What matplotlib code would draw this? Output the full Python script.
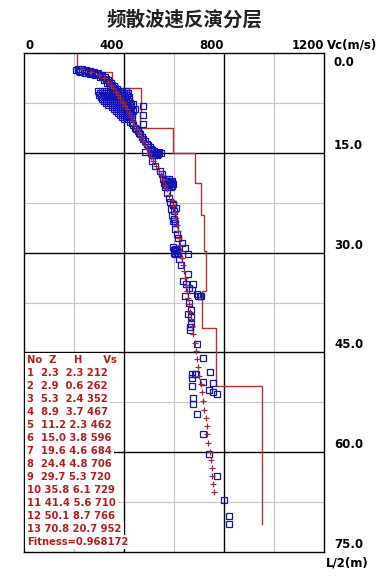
import matplotlib
matplotlib.use("Agg")
import matplotlib.pyplot as plt

# ---------------- data ----------------
title = "频散波速反演分层"
x_tick_values = [0, 400, 800, 1200]
x_tick_labels = ["0", "400", "800", "1200"]
x_unit = "Vc(m/s)"
y_tick_values = [0, 15, 30, 45, 60, 75]
y_tick_labels = ["0.0", "15.0", "30.0", "45.0", "60.0", "75.0"]
y_unit = "L/2(m)"
x_major_grid = [400, 800]
x_minor_grid = [200, 600, 1000]
y_major_grid = [15, 30, 45, 60]
y_minor_grid = [7.5, 22.5, 37.5, 52.5, 67.5]

# layered model (table)
layer_no = list(range(1, 14))
layer_z = [2.3, 2.9, 5.3, 8.9, 11.2, 15.0, 19.6, 24.4, 29.7, 35.8, 41.4, 50.1, 70.8]
layer_h = [2.3, 0.6, 2.4, 3.7, 2.3, 3.8, 4.6, 4.8, 5.3, 6.1, 5.6, 8.7, 20.7]
layer_vs = [212, 262, 352, 467, 462, 596, 684, 706, 720, 729, 710, 766, 952]
fitness = "0.968172"

# observed dispersion points (blue squares): velocity, depth
obs_vc = [
    216, 232, 248, 264, 280, 296, 312, 324, 336, 348, 360, 372,
    208, 224, 244, 264, 284, 304, 320, 332, 344, 356,
    220, 240, 256, 272, 292, 312, 328, 340, 352, 364,
    296, 312, 328, 344, 360, 376, 392, 408,
    304, 320, 336, 352, 368, 384, 400, 416,
    300, 316, 332, 348, 364, 380, 396, 412,
    308, 324, 340, 356, 372, 388, 404, 420,
    312, 328, 344, 360, 376, 392, 408, 420,
    320, 336, 352, 368, 384, 400, 416,
    328, 344, 360, 376, 392, 408, 424,
    336, 352, 368, 384, 400, 416, 428,
    352, 368, 384, 400, 416, 424,
    360, 376, 392, 408, 420,
    368, 384, 400, 416, 428,
    376, 392, 408, 424,
    384, 400, 416, 432,
    392, 408, 424,
    400, 416, 432,
    424, 436, 444, 456, 464, 472, 484, 492, 504, 512, 524, 536, 516,
    432, 448, 460, 476, 496, 508, 520, 540, 548,
    520, 528, 532, 508,
    436, 444, 476, 476, 476, 424, 412, 484, 436,
    512, 524, 544, 552, 556, 568, 580, 592, 560, 572, 584, 596, 564, 576, 588,
    562, 574, 586, 568, 580, 592,
    572, 580, 596, 608,
    584, 596, 588, 600, 592, 600, 604,
    596, 604, 612, 616, 632, 596, 604, 612, 600, 616, 644, 656, 612,
    600, 608, 604,
    620, 628, 656, 636, 648, 676, 660, 672, 692, 704,
    644, 696, 708, 660, 656, 668, 668, 668, 664, 664, 692, 716,
    672, 684, 744, 688, 672, 672, 716, 756, 740, 756, 772, 676, 676,
    692, 716, 740, 772, 800, 820, 820,
]
obs_z = [
    2.4, 2.4, 2.55, 2.7, 2.85, 3.0, 3.3, 3.6, 4.05, 4.5, 4.95, 5.4,
    2.55, 2.85, 3.0, 3.15, 3.3, 3.6, 4.05, 4.5, 4.95, 5.4,
    2.7, 2.7, 2.85, 2.95, 3.15, 3.45, 3.85, 4.3, 4.75, 5.2,
    5.7, 5.7, 5.7, 5.7, 5.7, 5.7, 5.7, 5.7,
    6.0, 6.0, 6.0, 6.0, 6.0, 6.0, 6.0, 6.0,
    6.3, 6.3, 6.3, 6.3, 6.3, 6.3, 6.3, 6.3,
    6.6, 6.6, 6.6, 6.6, 6.6, 6.6, 6.6, 6.6,
    6.9, 6.9, 6.9, 6.9, 6.9, 6.9, 6.9, 6.9,
    7.2, 7.2, 7.2, 7.2, 7.2, 7.2, 7.2,
    7.5, 7.5, 7.5, 7.5, 7.5, 7.5, 7.5,
    7.8, 7.8, 7.8, 7.8, 7.8, 7.8, 7.8,
    8.1, 8.1, 8.1, 8.1, 8.1, 8.1,
    8.4, 8.4, 8.4, 8.4, 8.4,
    8.7, 8.7, 8.7, 8.7, 8.7,
    9.0, 9.0, 9.0, 9.0,
    9.3, 9.3, 9.3, 9.3,
    9.6, 9.6, 9.6,
    9.9, 9.9, 9.9,
    10.35, 10.8, 11.25, 11.7, 12.15, 12.6, 13.2, 13.65, 14.1, 14.55, 15.0, 15.15, 15.15,
    10.5, 11.4, 12.0, 12.9, 13.9, 14.4, 14.8, 14.9, 15.1,
    15.3, 15.0, 15.3, 15.0,
    7.65, 8.4, 7.95, 9.3, 10.65, 9.15, 9.45, 14.85, 8.7,
    16.2, 17.0, 17.7, 18.15, 18.9, 18.9, 19.0, 19.2, 19.5, 19.5, 19.6, 19.7, 20.1, 20.1, 20.2,
    19.2, 19.3, 19.4, 19.8, 19.9, 20.0,
    21.0, 21.75, 22.65, 23.25,
    22.4, 22.8, 23.4, 23.8, 24.4, 25.0, 25.6,
    25.2, 26.4, 27.15, 27.75, 28.5, 29.2, 29.4, 29.6, 30.0, 30.0, 29.25, 30.15, 30.15,
    29.6, 29.8, 30.2,
    31.0, 31.8, 33.2, 34.2, 34.7, 34.7, 35.3, 35.6, 36.2, 36.5,
    36.5, 36.5, 36.5, 37.5, 39.2, 38.7, 39.7, 40.7, 41.2, 41.7, 43.7, 45.8,
    48.2, 48.2, 48.0, 48.2, 48.9, 50.0, 49.5, 49.6, 50.7, 51.0, 51.2, 51.8, 52.7,
    54.3, 57.2, 60.2, 63.6, 67.2, 69.6, 70.8,
]

# computed dispersion points (red plus): velocity, depth
calc_vc = [232, 268, 300, 320, 334, 346, 356, 366, 374, 384, 394, 402, 410, 420,
           428, 434, 440, 452, 460, 468, 476, 484, 492, 500, 508, 516, 528, 540,
           548, 556, 564, 572, 580, 590, 596, 602, 606, 610, 614, 618, 622, 626,
           630, 634, 638, 642, 646, 650, 654, 658, 662, 668, 672, 676, 682, 686,
           690, 696, 700, 706, 712, 716, 720, 726, 730, 732, 736, 742, 746, 750,
           752, 756, 760]
calc_z = [2.4, 2.9, 3.3, 3.8, 4.3, 4.8, 5.3, 5.8, 6.3, 6.8, 7.4, 7.9, 8.4, 9.0,
          9.6, 10.2, 10.8, 11.4, 12.0, 12.6, 13.2, 13.8, 14.4, 15.0, 15.6, 16.3, 17.0, 17.7,
          18.4, 19.1, 19.8, 20.5, 21.3, 22.1, 23.0, 23.9, 24.8, 25.8, 26.8, 27.8, 28.8, 29.8,
          30.8, 31.8, 32.8, 33.8, 34.8, 35.8, 36.8, 37.8, 38.9, 40.0, 41.1, 42.3, 43.6, 44.8,
          46.0, 47.2, 48.5, 49.7, 51.0, 52.3, 53.6, 54.9, 56.1, 57.3, 58.6, 59.9, 61.1, 62.3,
          63.6, 64.8, 66.0]

# ---------------- figure ----------------
W, H = 388, 581
fig = plt.figure(figsize=(W / 100, H / 100), dpi=100)
ax_l, ax_r, ax_t, ax_b = 24, 324, 53, 552
ax = fig.add_axes([ax_l / W, 1 - ax_b / H, (ax_r - ax_l) / W, (ax_b - ax_t) / H])
ax.set_xlim(x_tick_values[0], x_tick_values[-1])
ax.set_ylim(y_tick_values[-1], y_tick_values[0])
ax.set_xticks([])
ax.set_yticks([])
for sp in ax.spines.values():
    sp.set_color("black")
    sp.set_linewidth(1.0)

for v in x_minor_grid:
    ax.axvline(v, color="#c8c8c8", lw=0.9, zorder=1)
for v in y_minor_grid:
    ax.axhline(v, color="#c8c8c8", lw=0.9, zorder=1)
for v in x_major_grid:
    ax.axvline(v, color="black", lw=1.0, zorder=1)
for v in y_major_grid:
    ax.axhline(v, color="black", lw=1.0, zorder=1)

# step model line
step_x, step_y = [], []
prev = 0.0
for z, vs in zip(layer_z, layer_vs):
    step_x += [vs, vs]
    step_y += [prev, z]
    prev = z
ax.plot(step_x, step_y, color="#b43232", lw=1.0, zorder=2)

ax.plot(obs_vc, obs_z, linestyle="none", marker="s", ms=4.0, mfc="none",
        mec="#1414b4", mew=0.9, zorder=3)
ax.plot(calc_vc, calc_z, linestyle="none", marker="+", ms=4.5, mew=0.9,
        color="#a0283c", zorder=4)

# axis labels
lab_font = dict(family="DejaVu Sans", weight="bold", fontsize=8.5, color="black")
for v, lab in zip(x_tick_values, x_tick_labels):
    ha = "left" if v == x_tick_values[0] else "right"
    dx = 2 if v == x_tick_values[0] else 0
    ax.annotate(lab, xy=(v, 1.0), xycoords=("data", "axes fraction"),
                xytext=(dx, 4), textcoords="offset pixels", ha=ha, va="baseline",
                annotation_clip=False, **lab_font)
ax.annotate(x_unit, xy=(1.0, 1.0), xycoords="axes fraction", xytext=(3, 4),
            textcoords="offset pixels", ha="left", va="baseline",
            annotation_clip=False, **lab_font)
for v, lab in zip(y_tick_values, y_tick_labels):
    if v == y_tick_values[0]:
        off, va = -3, "top"
    else:
        off, va = 4, "baseline"
    ax.annotate(lab, xy=(1.0, v), xycoords=("axes fraction", "data"),
                xytext=(10, off), textcoords="offset pixels", ha="left", va=va,
                annotation_clip=False, **lab_font)
ax.annotate(y_unit, xy=(1.0, 0.0), xycoords="axes fraction", xytext=(2, -11),
            textcoords="offset pixels", ha="left", va="center",
            annotation_clip=False, **lab_font)

fig.text(185 / W, 1 - 20 / H, title, ha="center", va="center", fontsize=14,
         family=["Noto Sans CJK SC", "DejaVu Sans"], weight="bold", color="#222222")

# table
tab_font = dict(family="DejaVu Sans", weight="bold", fontsize=7.2, color="#b41e1e")
rows = ["No  Z     H      Vs"]
for n, z, h, vs in zip(layer_no, layer_z, layer_h, layer_vs):
    rows.append(f"{str(n).ljust(2)} {f'{z:.1f}'.ljust(4)} {h:.1f} {vs}")
rows.append(f"Fitness={fitness}")
for k, r in enumerate(rows):
    py = 360 + 13 * k
    ax.text((27 - ax_l) / (ax_r - ax_l), 1 - (py - ax_t) / (ax_b - ax_t), r,
            transform=ax.transAxes, ha="left", va="center", zorder=5,
            bbox=dict(facecolor="white", edgecolor="none", pad=1.6), **tab_font)

fig.savefig("out.png", dpi=100)
